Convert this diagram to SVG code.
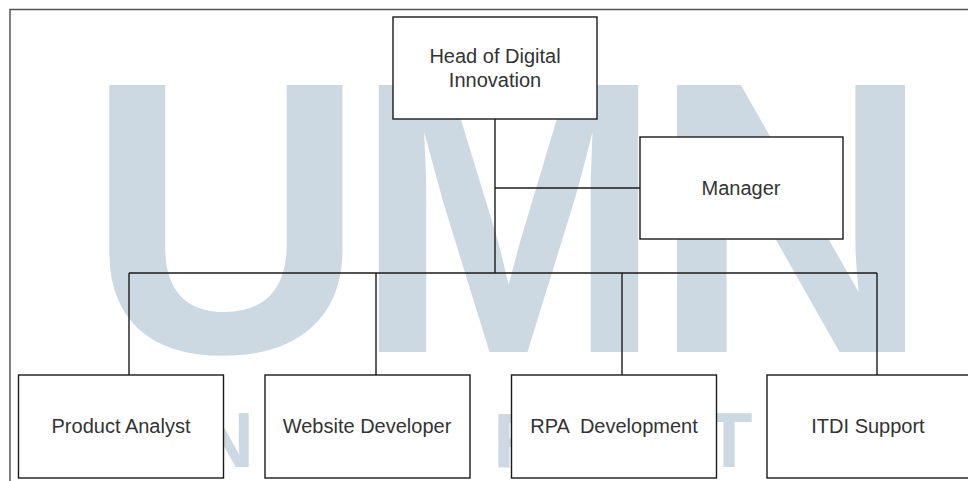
<svg xmlns="http://www.w3.org/2000/svg" width="968" height="481" viewBox="0 0 968 481">
<style>
.wm{fill:#ccd9e3;font-family:"Liberation Sans",Arial,sans-serif;font-weight:bold}
.wms{fill:#ccd9e3;font-family:"Liberation Sans",Arial,sans-serif;font-weight:bold;font-size:77px;text-anchor:middle}
.box{fill:#ffffff;stroke:#1a1a1a;stroke-width:1.4}
.lbl{fill:#333333;font-family:"Liberation Sans",Arial,sans-serif;font-size:20px;text-anchor:middle}
.conn{fill:none;stroke:#1a1a1a;stroke-width:1.4}
</style>
<rect x="0" y="0" width="968" height="481" fill="#ffffff"/>
<rect x="10" y="9.5" width="970" height="480" fill="none" stroke="#555555" stroke-width="1.5"/>
<g id="watermark">
<text class="wm" x="86" y="352" font-size="388">U</text>
<text class="wm" x="354" y="352" font-size="388" textLength="309" lengthAdjust="spacingAndGlyphs">M</text>
<text class="wm" x="651" y="352" font-size="388">N</text>
<text class="wms" x="226" y="467">N</text>
<text class="wms" x="521" y="467">R</text>
<text class="wms" x="729" y="467">T</text>
</g>
<g id="connectors">
<path class="conn" d="M495 119 V273"/>
<path class="conn" d="M495 188 H640"/>
<path class="conn" d="M129 273 H877"/>
<path class="conn" d="M129 273 V375"/>
<path class="conn" d="M376 273 V375"/>
<path class="conn" d="M622 273 V375"/>
<path class="conn" d="M877 273 V375"/>
</g>
<g id="head">
<rect class="box" x="393" y="17" width="204" height="102"/>
<text class="lbl" x="495" y="63">Head of Digital</text>
<text class="lbl" x="495" y="87">Innovation</text>
</g>
<g id="manager">
<rect class="box" x="640" y="137" width="203" height="102"/>
<text class="lbl" x="741" y="195">Manager</text>
</g>
<g id="product-analyst">
<rect class="box" x="18.5" y="375" width="205" height="103"/>
<text class="lbl" x="121" y="433">Product Analyst</text>
</g>
<g id="website-developer">
<rect class="box" x="265" y="375" width="205" height="103"/>
<text class="lbl" x="367" y="433">Website Developer</text>
</g>
<g id="rpa-development">
<rect class="box" x="511.5" y="375" width="205" height="103"/>
<text class="lbl" x="614" y="433" xml:space="preserve">RPA  Development</text>
</g>
<g id="itdi-support">
<rect class="box" x="767" y="375" width="205" height="103"/>
<text class="lbl" x="868" y="433">ITDI Support</text>
</g>
</svg>
